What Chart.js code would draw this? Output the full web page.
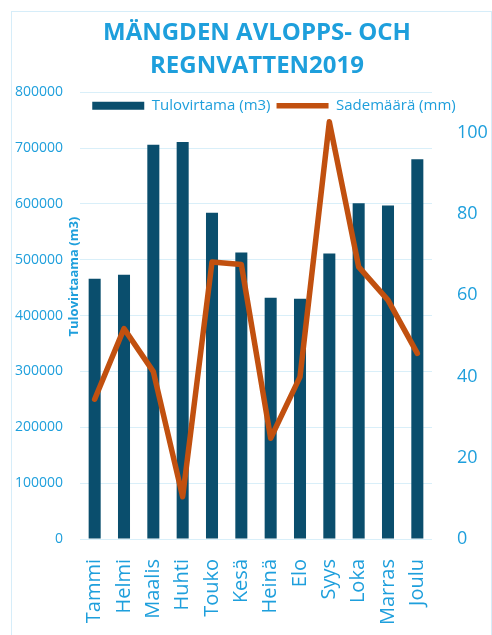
<!DOCTYPE html>
<html>
<head>
<meta charset="utf-8">
<script src="https://cdn.jsdelivr.net/npm/chart.js@4"></script>
<style>
  body { margin: 0; background: #fff; }
  #frame { position: absolute; left: 11px; top: 11px; width: 479px; height: 700px; border: 1px solid #d6edf9; }
  #chart { position: absolute; left: 0; top: 0; }
</style>
</head>
<body>
<div id="frame"></div>
<canvas id="chart" width="492" height="635"></canvas>
<script>
// kuukaudet
const months = ['Tammi', 'Helmi', 'Maalis', 'Huhti', 'Touko', 'Kesä', 'Heinä', 'Elo', 'Syys', 'Loka', 'Marras', 'Joulu'];
// tulovirtaama m3
const inflow = [466000, 473000, 706000, 711000, 584000, 513000, 432000, 430000, 511000, 601000, 597000, 680000];
// sademäärä mm
const rain = [34.4, 51.8, 41.2, 10.4, 68.2, 67.6, 24.8, 39.9, 102.7, 67.0, 58.8, 45.7];

const titleLines = ['MÄNGDEN AVLOPPS- OCH', 'REGNVATTEN2019'];
const inflowLabel = 'Tulovirtama (m3)';
const rainLabel = 'Sademäärä (mm)';
const leftAxisTitle = 'Tulovirtaama (m3)';

const blue = '#1e9fdc';
const font = 'Open Sans';

// akselin otsikko tikkien ja kuvaajan väliin
const leftTitlePlugin = {
    id: 'leftTitle',
    afterDraw(chart) {
        const { ctx, chartArea } = chart;
        ctx.save();
        ctx.translate(chartArea.left - 6, (chartArea.top + chartArea.bottom) / 2 - 39);
        ctx.rotate(-Math.PI / 2);
        ctx.font = `bold 13px "${font}"`;
        ctx.fillStyle = blue;
        ctx.textAlign = 'center';
        ctx.textBaseline = 'middle';
        ctx.fillText(leftAxisTitle, 0, 0);
        ctx.restore();
    }
};

// selite kuvaajan sisälle, otsikko hieman oikealle
const legendShift = {
    id: 'legendShift',
    afterLayout(chart) {
        const lg = chart.legend;
        lg.top = chart.chartArea.top;
        lg.height = 30;
        lg.bottom = lg.top + 30;
        lg.left += 28;
        lg.right += 28;
        const tb = chart.titleBlock;
        tb.left += 11;
        tb.right += 11;
    }
};

new Chart(document.getElementById('chart'), {
    data: {
        labels: months,
        datasets: [{
            type: 'line',
            label: rainLabel,
            data: rain,
            yAxisID: 'y1',
            borderColor: '#c1500f',
            backgroundColor: '#c1500f',
            borderWidth: 5.5,
            pointRadius: 0,
            tension: 0,
            borderJoinStyle: 'round',
            borderCapStyle: 'round',
            pointStyle: 'line',
            order: 0
        }, {
            type: 'bar',
            label: inflowLabel,
            data: inflow,
            yAxisID: 'y',
            backgroundColor: '#0a4e6d',
            categoryPercentage: 1,
            barPercentage: 0.41,
            pointStyle: 'rect',
            order: 1
        }]
    },
    options: {
        responsive: false,
        animation: false,
        plugins: {
            tooltip: { enabled: false },
            title: {
                display: true,
                text: titleLines,
                color: blue,
                font: { family: font, size: 24, weight: 'bold', lineHeight: 1.4 },
                padding: { top: 16, bottom: 8 }
            },
            legend: {
                position: 'top',
                maxHeight: 1,
                labels: {
                    usePointStyle: true,
                    pointStyleWidth: 52,
                    boxWidth: 52,
                    boxHeight: 8,
                    padding: 6,
                    color: blue,
                    font: { family: font, size: 15 },
                    sort: (a, b) => b.datasetIndex - a.datasetIndex
                }
            }
        },
        scales: {
            x: {
                grid: { display: false },
                border: { display: false },
                ticks: {
                    color: blue,
                    font: { family: font, size: 20 },
                    minRotation: 90,
                    maxRotation: 90,
                    padding: 12
                },
                afterFit(scale) { scale.height = 96; }
            },
            y: {
                position: 'left',
                min: 0,
                max: 800000,
                grid: { color: '#d9eff9', drawTicks: false },
                border: { display: false },
                ticks: {
                    stepSize: 100000,
                    color: blue,
                    font: { family: font, size: 14 },
                    padding: 17,
                    callback: (v) => String(v)
                },
                afterFit(scale) { scale.width = 80; }
            },
            y1: {
                position: 'right',
                min: 0,
                max: 110,
                bounds: 'data',
                grid: { display: false, drawTicks: false },
                border: { display: false },
                ticks: {
                    stepSize: 20,
                    color: blue,
                    font: { family: font, size: 18 },
                    padding: 25,
                    callback: (v) => (v <= 100 ? String(v) : '')
                },
                afterFit(scale) { scale.width = 60; }
            }
        }
    },
    plugins: [leftTitlePlugin, legendShift]
});
</script>
</body>
</html>
